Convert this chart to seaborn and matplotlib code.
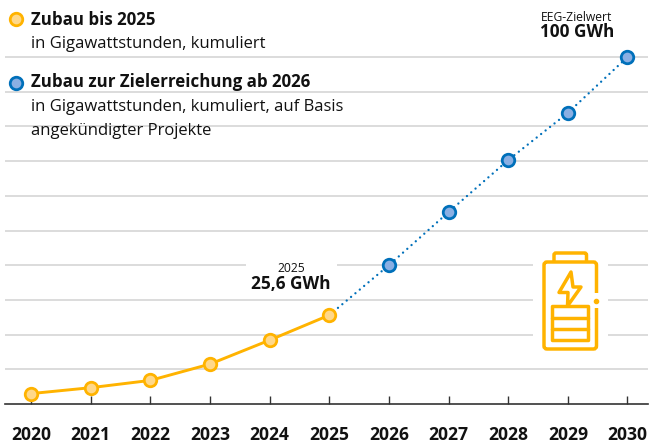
import numpy as np
import pandas as pd
import matplotlib.pyplot as plt
import seaborn as sns
from matplotlib.patches import FancyBboxPatch, Polygon, Rectangle

# Values (GWh, cumulative)
years_past = [2020, 2021, 2022, 2023, 2024, 2025]
values_past = [3.0, 4.7, 6.8, 11.5, 18.4, 25.6]
years_target = [2025, 2026, 2027, 2028, 2029, 2030]
values_target = [25.6, 40.0, 55.3, 70.3, 83.9, 100.0]
all_years = list(range(2020, 2031))
grid_values = list(range(10, 101, 10))

ORANGE = "#FFB300"
ORANGE_FILL = "#FFD88A"
BLUE = "#0070BA"
BLUE_FILL = "#8AAFE3"
GRID = "#D2D2D2"
INK = "#111111"

sns.set_theme(style="white")
plt.rcParams["font.family"] = ["Open Sans", "DejaVu Sans"]

past_df = pd.DataFrame({"year": years_past, "gwh": values_past})
target_df = pd.DataFrame({"year": years_target, "gwh": values_target})

fig = plt.figure(figsize=(6.5, 4.43), dpi=100)
ax = fig.add_axes([5 / 650, 39 / 443, 643 / 650, 404 / 443])

# Gridlines and the base axis
ax.hlines(grid_values, 2020 - 26 / 59.65, 2020 + 617 / 59.65, color=GRID, lw=1.1, zorder=1)

# Dotted blue target line, without the 2025 marker
sns.lineplot(data=target_df, x="year", y="gwh", ax=ax, color=BLUE, lw=1.7,
             linestyle=(0, (0.01, 2.4)), dash_capstyle="round", zorder=2)
sns.lineplot(data=target_df[target_df["year"] > 2025], x="year", y="gwh", ax=ax,
             lw=0, marker="o", markersize=9, markerfacecolor=BLUE_FILL,
             markeredgecolor=BLUE, markeredgewidth=2, zorder=3)

# Solid orange line up to 2025
sns.lineplot(data=past_df, x="year", y="gwh", ax=ax, color=ORANGE, lw=2.1,
             marker="o", markersize=9, markerfacecolor=ORANGE_FILL,
             markeredgecolor=ORANGE, markeredgewidth=2, zorder=4)

ax.set_xlim(2020 - 26 / 59.65, 2020 + 617 / 59.65)
ax.set_ylim(0, 404 / 3.47)
ax.set_xticks(all_years)
ax.set_xticklabels(all_years, fontweight="bold", fontsize=12.6, color=INK)
ax.set_yticks([])
ax.set_xlabel("")
ax.set_ylabel("")
ax.tick_params(axis="x", direction="in", length=5.8, width=1, color="#333333", pad=15.5, bottom=True)
sns.despine(ax=ax, left=True, top=True, right=True)
ax.spines["bottom"].set_color("#333333")
ax.spines["bottom"].set_linewidth(1.2)
ax.patch.set_alpha(0)

# Overlay in pixel units for legend, labels and the battery icon
over = fig.add_axes([0, 0, 1, 1], zorder=5)
over.set_xlim(0, 650)
over.set_ylim(443, 0)
over.axis("off")
over.patch.set_alpha(0)

over.plot([16], [19], marker="o", ms=9, mfc=ORANGE_FILL, mec=ORANGE, mew=2)
over.plot([16], [83], marker="o", ms=9, mfc=BLUE_FILL, mec=BLUE, mew=2)

over.text(31, 19.5, "Zubau bis 2025", fontsize=12.2, fontweight="bold", color=INK, va="center")
over.text(31, 43.5, "in Gigawattstunden, kumuliert", fontsize=12, color=INK, va="center")
over.text(31, 81.5, "Zubau zur Zielerreichung ab 2026", fontsize=12.2, fontweight="bold", color=INK, va="center")
over.text(31, 106.5, "in Gigawattstunden, kumuliert, auf Basis", fontsize=12, color=INK, va="center")
over.text(31, 131, "angekündigter Projekte", fontsize=12, color=INK, va="center")

# 2025 label on a white patch that cuts the gridline
over.add_patch(Rectangle((246, 258), 91, 36, fc="white", ec="none"))
over.text(291, 268, "2025", fontsize=8.7, color=INK, ha="center", va="center")
over.text(291, 284, "25,6 GWh", fontsize=12.4, fontweight="bold", color=INK, ha="center", va="center")

over.text(577, 17, "EEG-Zielwert", fontsize=8.7, color=INK, ha="center", va="center")
over.text(577, 32, "100 GWh", fontsize=12.3, fontweight="bold", color=INK, ha="center", va="center")

# Battery icon
lw_icon = 2.5
over.add_patch(Rectangle((533, 240), 75, 120, fc="white", ec="none"))
over.add_patch(FancyBboxPatch((554, 253), 32.5, 12, boxstyle="round,pad=0,rounding_size=2",
                              fc="none", ec=ORANGE, lw=lw_icon))
over.add_patch(FancyBboxPatch((544, 262), 52.5, 87, boxstyle="round,pad=0,rounding_size=3",
                              fc="white", ec=ORANGE, lw=lw_icon))
# break in the right edge with a small dot
over.add_patch(Rectangle((593, 293), 7, 15, fc="white", ec="none"))
over.plot([595.7], [301], marker="o", ms=3, color=ORANGE)
over.add_patch(Polygon([(571, 272), (559, 292.5), (568, 292.5), (567.5, 306), (581, 287), (573, 287)],
                       closed=True, fc="white", ec=ORANGE, lw=lw_icon, joinstyle="round"))
over.add_patch(Rectangle((552, 306), 36, 34, fc="white", ec=ORANGE, lw=lw_icon, joinstyle="round"))
over.plot([552, 588], [317.5, 317.5], color=ORANGE, lw=lw_icon)
over.plot([552, 588], [328.5, 328.5], color=ORANGE, lw=lw_icon)

fig.savefig("out.png", dpi=100)
